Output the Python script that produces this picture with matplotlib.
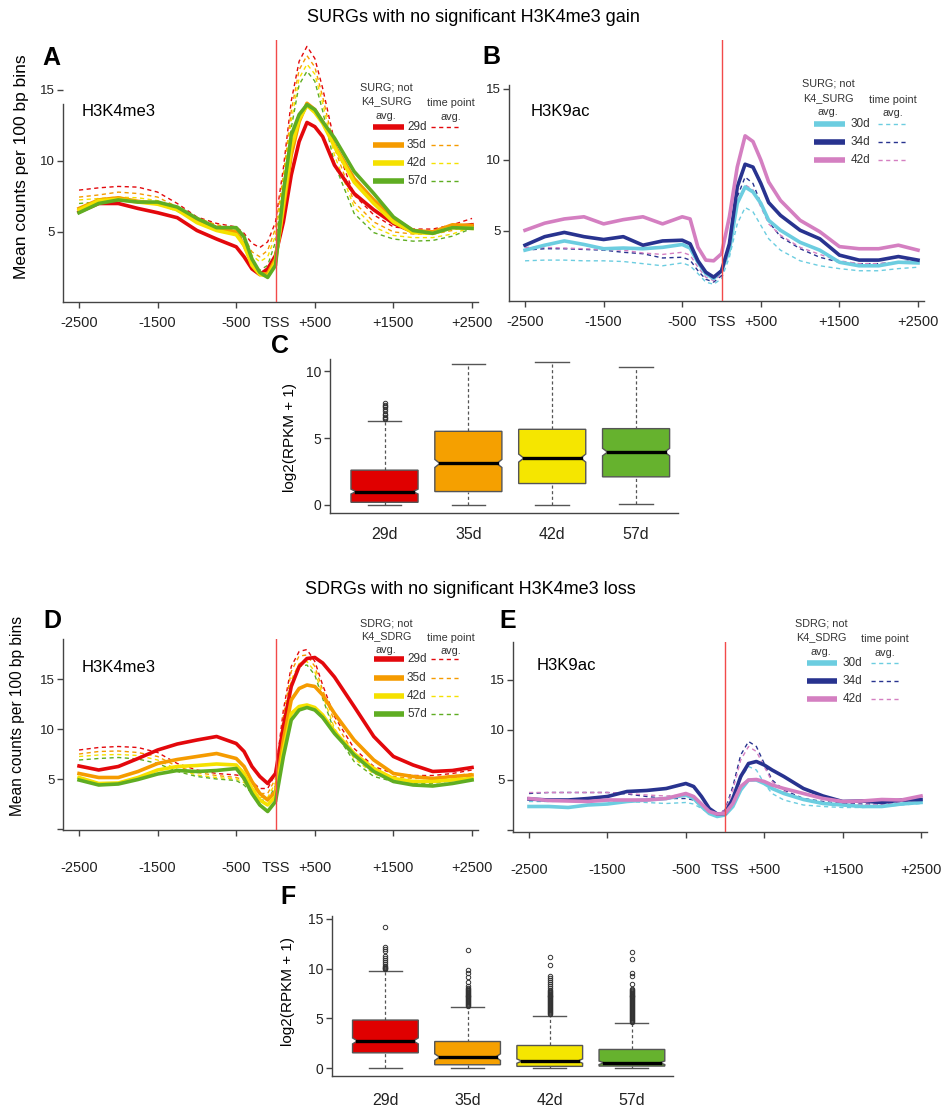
import matplotlib
matplotlib.use("Agg")
import matplotlib.pyplot as plt
from matplotlib.lines import Line2D

plt.rcParams['font.family'] = ['Liberation Sans', 'DejaVu Sans']

# --- data ---
X = [-2500, -2250, -2000, -1750, -1500, -1250, -1000, -750, -500, -400, -300, -200, -100, 0,
     100, 200, 300, 400, 500, 600, 750, 1000, 1250, 1500, 1750, 2000, 2250, 2500]
x_ticks = [-2500, -1500, -500, 0, 500, 1500, 2500]
x_labels = ['-2500', '-1500', '-500', 'TSS', '+500', '+1500', '+2500']

k4_days = ['29d', '35d', '42d', '57d']
k9_days = ['30d', '34d', '42d']

# panel A: SURG H3K4me3 (solid = SURG not K4_SURG avg, dashed = time point avg)
a_29 = [6.4, 7.0, 7.0, 6.65, 6.35, 6.0, 5.1, 4.5, 3.95, 3.25, 2.4, 2.0, 2.4, 3.35, 5.7, 9.0, 11.35, 12.7, 12.4, 11.7, 9.7, 7.7, 6.55, 5.6, 5.0, 5.0, 5.35, 5.5]
a_35 = [6.65, 7.25, 7.4, 7.15, 7.0, 6.65, 5.8, 5.3, 5.0, 4.05, 2.9, 2.05, 2.05, 3.1, 6.65, 10.4, 12.75, 14.05, 13.6, 12.75, 11.1, 8.75, 7.25, 5.95, 5.1, 5.0, 5.5, 5.45]
a_42 = [6.55, 7.2, 7.3, 7.1, 6.95, 6.55, 5.65, 5.1, 4.8, 4.05, 2.65, 2.0, 1.9, 2.9, 7.0, 10.9, 12.9, 13.9, 13.4, 12.65, 11.0, 8.5, 7.0, 5.7, 4.95, 4.9, 5.3, 5.25]
a_57 = [6.35, 7.0, 7.25, 7.1, 7.1, 6.75, 5.95, 5.3, 5.3, 4.65, 3.1, 2.15, 1.8, 2.65, 7.8, 11.8, 13.25, 13.95, 13.6, 12.75, 11.6, 9.25, 7.7, 6.05, 5.1, 4.9, 5.3, 5.25]
ad_29 = [7.94, 8.1, 8.2, 8.15, 7.8, 7.0, 6.05, 5.6, 5.35, 4.9, 4.2, 3.9, 4.3, 5.7, 9.5, 14.2, 17.0, 18.05, 17.2, 15.1, 11.35, 7.6, 6.2, 5.35, 5.2, 5.2, 5.5, 5.95]
ad_35 = [7.45, 7.6, 7.8, 7.7, 7.45, 6.75, 6.0, 5.5, 5.25, 4.65, 3.6, 3.25, 3.7, 5.25, 9.0, 13.5, 16.4, 17.4, 16.6, 14.5, 10.9, 7.1, 5.7, 5.0, 4.85, 4.85, 5.1, 5.6]
ad_42 = [7.25, 7.35, 7.45, 7.4, 7.2, 6.6, 5.95, 5.4, 5.2, 4.5, 3.35, 2.9, 3.25, 4.75, 8.5, 12.8, 15.8, 16.8, 16.1, 14.05, 10.4, 6.75, 5.35, 4.75, 4.6, 4.6, 4.85, 5.35]
ad_57 = [7.0, 7.1, 7.2, 7.15, 7.0, 6.45, 5.8, 5.35, 5.1, 4.3, 2.9, 2.3, 2.65, 4.3, 8.05, 12.3, 15.35, 16.3, 15.6, 13.5, 9.8, 6.3, 4.95, 4.5, 4.35, 4.4, 4.7, 5.25]

# panel B: SURG H3K9ac
b_30 = [3.65, 4.0, 4.3, 4.05, 3.75, 3.8, 3.75, 3.85, 4.05, 3.8, 2.8, 2.0, 1.65, 2.2, 3.65, 6.95, 8.1, 7.75, 6.95, 5.75, 5.05, 4.2, 3.65, 2.8, 2.55, 2.55, 2.8, 2.75]
b_34 = [4.0, 4.6, 4.9, 4.6, 4.4, 4.6, 4.0, 4.3, 4.35, 4.1, 2.9, 2.1, 1.75, 2.2, 4.1, 8.1, 9.7, 9.5, 8.35, 7.0, 6.1, 5.05, 4.45, 3.3, 2.95, 2.95, 3.2, 2.95]
b_42 = [5.05, 5.55, 5.85, 6.0, 5.5, 5.8, 6.0, 5.5, 6.0, 5.85, 3.85, 2.95, 2.9, 3.4, 6.0, 9.5, 11.7, 11.3, 10.0, 8.45, 7.15, 5.75, 4.95, 3.9, 3.75, 3.75, 4.0, 3.65]
bd_30 = [2.9, 2.95, 2.95, 2.9, 2.9, 2.85, 2.7, 2.55, 2.75, 2.55, 2.0, 1.4, 1.25, 1.65, 3.15, 5.5, 6.65, 6.35, 5.4, 4.45, 3.65, 2.9, 2.55, 2.35, 2.2, 2.2, 2.35, 2.45]
bd_34 = [3.65, 3.75, 3.75, 3.7, 3.65, 3.5, 3.4, 3.1, 3.15, 2.95, 2.2, 1.6, 1.4, 1.85, 4.35, 7.4, 8.8, 8.35, 6.95, 5.65, 4.6, 3.75, 3.15, 2.8, 2.7, 2.7, 2.8, 2.95]
bd_42 = [3.85, 3.85, 3.8, 3.75, 3.7, 3.65, 3.45, 3.35, 3.5, 3.3, 2.45, 1.75, 1.5, 1.95, 4.1, 6.95, 8.25, 7.9, 6.7, 5.5, 4.7, 3.85, 3.35, 2.9, 2.7, 2.7, 2.8, 2.9]

# panel D: SDRG H3K4me3
d_29 = [6.3, 5.9, 6.25, 7.05, 7.9, 8.5, 8.9, 9.25, 8.55, 7.75, 6.25, 5.25, 4.55, 5.55, 10.25, 14.25, 16.25, 17.05, 17.15, 16.6, 15.2, 12.25, 9.25, 7.25, 6.4, 5.75, 5.85, 6.15]
d_35 = [5.55, 5.15, 5.15, 5.75, 6.55, 6.95, 7.25, 7.55, 7.05, 6.25, 4.75, 3.55, 2.9, 3.75, 8.9, 12.9, 14.05, 14.4, 14.25, 13.4, 11.55, 8.9, 6.9, 5.55, 5.25, 5.05, 5.25, 5.4]
d_42 = [5.15, 4.55, 4.6, 5.15, 5.9, 6.25, 6.35, 6.5, 6.4, 5.55, 4.05, 2.9, 2.4, 3.25, 7.9, 11.55, 12.25, 12.4, 12.15, 11.4, 9.75, 7.55, 6.05, 5.05, 4.75, 4.75, 4.9, 5.05]
d_57 = [4.9, 4.4, 4.5, 4.95, 5.5, 5.85, 5.75, 5.85, 6.05, 5.05, 3.55, 2.4, 1.75, 2.75, 7.25, 10.9, 11.9, 12.15, 11.9, 11.15, 9.55, 7.4, 5.75, 4.75, 4.4, 4.3, 4.55, 4.9]
dd_29 = [7.9, 8.15, 8.25, 8.15, 7.65, 6.55, 5.9, 5.55, 5.4, 5.25, 4.75, 4.05, 4.05, 5.55, 11.9, 16.25, 17.75, 17.95, 16.75, 14.4, 11.25, 8.05, 6.25, 5.55, 5.35, 5.35, 5.55, 5.9]
dd_35 = [7.5, 7.75, 7.8, 7.65, 7.25, 6.25, 5.65, 5.35, 5.15, 4.9, 4.25, 3.55, 3.55, 5.05, 11.25, 15.75, 17.3, 17.4, 16.25, 13.9, 10.75, 7.55, 5.85, 5.25, 5.05, 5.05, 5.3, 5.55]
dd_42 = [7.25, 7.4, 7.45, 7.35, 6.9, 5.95, 5.4, 5.15, 5.0, 4.65, 3.9, 3.15, 3.15, 4.65, 10.55, 14.9, 16.55, 16.75, 15.75, 13.4, 10.05, 7.05, 5.5, 5.0, 4.85, 4.85, 5.05, 5.4]
dd_57 = [6.9, 7.05, 7.15, 7.0, 6.55, 5.75, 5.25, 5.0, 4.85, 4.4, 3.55, 2.9, 2.85, 4.3, 10.05, 14.4, 16.25, 16.4, 15.4, 13.05, 9.75, 6.75, 5.25, 4.75, 4.55, 4.55, 4.85, 5.25]

# panel E: SDRG H3K9ac
e_30 = [2.35, 2.35, 2.25, 2.5, 2.6, 2.85, 3.0, 3.15, 3.5, 3.15, 2.35, 1.65, 1.35, 1.5, 2.35, 4.0, 5.0, 5.0, 4.65, 4.15, 3.65, 3.05, 2.65, 2.5, 2.35, 2.35, 2.6, 2.75]
e_34 = [3.1, 3.0, 3.0, 3.15, 3.35, 3.85, 3.95, 4.15, 4.65, 4.35, 3.35, 2.15, 1.6, 1.65, 3.15, 5.35, 6.65, 6.85, 6.5, 6.0, 5.35, 4.15, 3.4, 2.85, 2.9, 2.75, 3.0, 3.05]
e_42 = [3.15, 2.95, 2.9, 2.85, 3.0, 3.0, 3.0, 3.15, 3.65, 3.35, 2.6, 1.85, 1.6, 1.65, 2.65, 4.35, 5.0, 5.05, 4.85, 4.5, 4.15, 3.65, 3.15, 2.85, 2.9, 3.05, 3.0, 3.4]
ed_30 = [2.85, 2.85, 2.9, 2.9, 2.9, 2.85, 2.75, 2.65, 2.75, 2.6, 2.15, 1.65, 1.4, 1.65, 3.0, 5.15, 6.35, 6.0, 4.65, 3.65, 3.0, 2.5, 2.35, 2.25, 2.25, 2.35, 2.5, 2.65]
ed_34 = [3.65, 3.75, 3.75, 3.75, 3.75, 3.6, 3.35, 3.15, 3.15, 3.0, 2.35, 1.85, 1.65, 2.0, 4.35, 7.5, 8.85, 8.35, 6.65, 5.0, 4.0, 3.15, 2.85, 2.65, 2.6, 2.6, 2.85, 3.15]
ed_42 = [3.75, 3.75, 3.75, 3.75, 3.75, 3.65, 3.5, 3.4, 3.5, 3.15, 2.5, 1.95, 1.65, 1.95, 4.0, 7.0, 8.35, 7.85, 6.35, 4.85, 3.85, 3.05, 2.75, 2.6, 2.55, 2.55, 2.8, 3.05]

# box plots: (whisker low, q1, median, q3, whisker high, notch half-height)
c_stats = [(0.0, 0.2, 1.0, 2.6, 6.3, 0.18),
           (0.0, 1.0, 3.1, 5.5, 10.5, 0.3),
           (0.02, 1.6, 3.5, 5.65, 10.65, 0.3),
           (0.08, 2.1, 3.95, 5.7, 10.3, 0.28)]
c_out = [[6.4, 6.5, 6.6, 6.7, 6.8, 7.0, 7.2, 7.3, 7.4, 7.5, 7.6], [], [], []]

f_stats = [(0.0, 1.53, 2.73, 4.83, 9.77, 0.3),
           (0.0, 0.33, 1.1, 2.67, 6.1, 0.33),
           (0.0, 0.17, 0.7, 2.27, 5.27, 0.22),
           (0.0, 0.2, 0.53, 1.87, 4.5, 0.18)]
f_out = [[10.0, 10.05, 10.1, 10.2, 10.3, 10.5, 10.7, 10.9, 11.1, 11.3, 11.8, 12.0, 12.2, 14.2],
         [6.2, 6.3, 6.4, 6.5, 6.6, 6.7, 6.8, 6.9, 7.0, 7.1, 7.2, 7.3, 7.4, 7.5, 7.6, 7.7, 7.8,
          7.9, 8.0, 8.1, 8.3, 8.7, 9.2, 9.6, 9.9, 11.9],
         [5.4, 5.5, 5.6, 5.7, 5.8, 5.9, 6.0, 6.1, 6.2, 6.3, 6.4, 6.5, 6.6, 6.7, 6.8, 6.9, 7.0,
          7.1, 7.2, 7.3, 7.4, 7.5, 7.6, 7.7, 7.8, 7.9, 8.1, 8.3, 8.5, 8.7, 8.9, 9.1, 9.3, 10.4, 11.2],
         [4.6, 4.7, 4.8, 4.9, 5.0, 5.1, 5.2, 5.3, 5.4, 5.5, 5.6, 5.7, 5.8, 5.9, 6.0, 6.1, 6.2,
          6.3, 6.4, 6.5, 6.6, 6.7, 6.8, 6.9, 7.0, 7.1, 7.2, 7.3, 7.4, 7.5, 7.6, 7.7, 7.8, 7.9,
          8.0, 8.5, 9.3, 9.6, 11.0, 11.7]]

k4_colors = ['#e3080c', '#f59b00', '#f5e100', '#5fad22']
k9_colors = ['#6ccde0', '#28338f', '#d47fc1']
box_colors = ['#e00000', '#f5a000', '#f5e600', '#66b22e']
AX_COL = '#444444'

# --- layout helpers (pixel coordinates, origin top-left) ---
W, H = 945, 1106
fig = plt.figure(figsize=(W / 100, H / 100), dpi=100)


def px_axes(l, t, r, b):
    return fig.add_axes([l / W, 1 - b / H, (r - l) / W, (b - t) / H])


def ftext(x, y, s, **kw):
    kw.setdefault('ha', 'center')
    kw.setdefault('va', 'center')
    fig.text(x / W, 1 - y / H, s, **kw)


def fline(x1, x2, y, **kw):
    fig.add_artist(Line2D([x1 / W, x2 / W], [1 - y / H] * 2, transform=fig.transFigure, **kw))


def style_axes(ax):
    for s in ['top', 'right']:
        ax.spines[s].set_visible(False)
    for s in ['left', 'bottom']:
        ax.spines[s].set_color(AX_COL)
        ax.spines[s].set_linewidth(1.0)
    ax.tick_params(colors=AX_COL, labelcolor='#222222', width=1.0, length=4)


def profile(ax, solids, dashed, colors, ylim, spine_top, yticks, xpad):
    for ys, c in zip(dashed, colors):
        ax.plot(X, ys, color=c, lw=1.0, dashes=(3, 2.5), zorder=2)
    for ys, c in zip(solids, colors):
        ax.plot(X, ys, color=c, lw=2.6, solid_joinstyle='round', zorder=3)
    ax.axvline(0, color='#f24a4a', lw=1.0, zorder=4)
    ax.set_xlim(-2704, 2576)
    ax.set_ylim(*ylim)
    style_axes(ax)
    ax.spines['left'].set_bounds(ylim[0], spine_top)
    ax.set_xticks(x_ticks)
    ax.set_xticklabels(x_labels, fontsize=10.5)
    ax.xaxis.get_major_ticks()[3].tick1line.set_visible(False)
    ax.tick_params(axis='x', pad=xpad)
    ax.set_yticks(yticks)
    ax.set_yticklabels(['' if v == 0 else str(v) for v in yticks], fontsize=9.5)
    ax.tick_params(axis='y', pad=2)


def legend(head_x, head_ys, group, tp_x, rows_y, sx1, sx2, lab_x, dx1, dx2, labels, colors):
    ftext(head_x, head_ys[0], group + '; not', fontsize=7.8, color='#333333')
    ftext(head_x, head_ys[1], 'K4_' + group, fontsize=7.8, color='#333333')
    ftext(head_x, head_ys[2], 'avg.', fontsize=7.8, color='#333333')
    ftext(tp_x, head_ys[1] + 2, 'time point', fontsize=7.8, color='#333333')
    ftext(tp_x, head_ys[2] + 1, 'avg.', fontsize=7.8, color='#333333')
    for y, lab, c in zip(rows_y, labels, colors):
        fline(sx1, sx2, y, color=c, lw=4.0, solid_capstyle='butt')
        ftext(lab_x, y, lab, ha='left', fontsize=8.5, color='#333333')
        fline(dx1, dx2, y, color=c, lw=1.0, dashes=(3, 2.5))


def boxes(ax, stats, outs, colors, ylim, spine_top, yticks, xpad):
    hw, ins, cap = 0.4, 0.06, 0.2
    for i, (st, o, c) in enumerate(zip(stats, outs, colors)):
        p = i + 1
        lo, q1, med, q3, hi, nh = st
        wl = dict(color='#555555', lw=0.9, dashes=(2.5, 2), zorder=1)
        ax.plot([p, p], [q3, hi], **wl)
        ax.plot([p, p], [lo, q1], **wl)
        ax.plot([p - cap, p + cap], [hi, hi], color='#555555', lw=1.0)
        ax.plot([p - cap, p + cap], [lo, lo], color='#555555', lw=1.0)
        xs = [p - hw, p + hw, p + hw, p + hw - ins, p + hw, p + hw, p - hw, p - hw, p - hw + ins, p - hw]
        ys = [q1, q1, med - nh, med, med + nh, q3, q3, med + nh, med, med - nh]
        ax.fill(xs, ys, facecolor=c, edgecolor='#555555', lw=1.0, zorder=2)
        ax.plot([p - hw + ins, p + hw - ins], [med, med], color='black', lw=2.4, zorder=3)
        if o:
            ax.plot([p] * len(o), o, 'o', mfc='none', mec='#333333', ms=3.2, mew=0.7, zorder=4)
    ax.set_xlim(0.35, 4.5)
    ax.set_ylim(*ylim)
    style_axes(ax)
    ax.spines['left'].set_bounds(ylim[0], spine_top)
    ax.set_xticks([1, 2, 3, 4])
    ax.set_xticklabels(k4_days, fontsize=11.5)
    ax.tick_params(axis='x', length=0, pad=xpad)
    ax.set_yticks(yticks)
    ax.set_yticklabels([str(v) for v in yticks], fontsize=10)
    ax.tick_params(axis='y', pad=2)


# --- titles ---
ftext(473, 18, 'SURGs with no significant H3K4me3 gain', fontsize=13)
ftext(470, 590, 'SDRGs with no significant H3K4me3 loss', fontsize=13)

# --- panel A ---
axA = px_axes(63, 40, 478, 302)
profile(axA, [a_29, a_35, a_42, a_57], [ad_29, ad_35, ad_42, ad_57], k4_colors,
        (0.07, 18.5), 14.0, [5, 10, 15], 6)
ftext(82, 112, 'H3K4me3', ha='left', fontsize=12)
legend(386, [88, 101, 116], 'SURG', 451, [127, 145, 163, 181], 373, 404, 407, 431, 459,
       k4_days, k4_colors)

# --- panel B ---
axB = px_axes(509, 40, 924, 301)
profile(axB, [b_30, b_34, b_42], [bd_30, bd_34, bd_42], k9_colors,
        (0.07, 18.45), 15.3, [5, 10, 15], 6)
ftext(531, 112, 'H3K9ac', ha='left', fontsize=12)
legend(828, [84, 98, 112], 'SURG', 893, [124, 142, 160], 814, 845, 851, 878, 907,
       k9_days, k9_colors)

# --- panel C ---
axC = px_axes(330, 359, 678, 513)
boxes(axC, c_stats, c_out, box_colors, (-0.6, 10.9), 10.9, [0, 5, 10], 10)
ftext(290, 438, 'log2(RPKM + 1)', rotation=90, fontsize=11)

# --- panel D ---
axD = px_axes(63, 639, 478, 830)
profile(axD, [d_29, d_35, d_42, d_57], [dd_29, dd_35, dd_42, dd_57], k4_colors,
        (-0.1, 19.0), 19.0, [0, 5, 10, 15], 18)
ftext(82, 667, 'H3K4me3', ha='left', fontsize=12)
legend(386, [623, 636, 650], 'SDRG', 451, [659, 678, 696, 714], 374, 404, 407, 431, 459,
       k4_days, k4_colors)

# --- panel E ---
axE = px_axes(513, 642, 927, 832)
profile(axE, [e_30, e_34, e_42], [ed_30, ed_34, ed_42], k9_colors,
        (-0.2, 18.8), 18.8, [0, 5, 10, 15], 18)
ftext(537, 666, 'H3K9ac', ha='left', fontsize=12)
legend(821, [624, 637, 652], 'SDRG', 885, [663, 681, 699], 807, 837, 843, 871, 900,
       k9_days, k9_colors)

# --- panel F ---
axF = px_axes(332, 916, 673, 1076)
boxes(axF, f_stats, f_out, box_colors, (-0.8, 15.3), 15.3, [0, 5, 10, 15], 12)
ftext(288, 992, 'log2(RPKM + 1)', rotation=90, fontsize=11)

# --- y labels and panel letters ---
ftext(22, 167, 'Mean counts per 100 bp bins', rotation=90, fontsize=12.5)
ftext(18, 716, 'Mean counts per 100 bp bins', rotation=90, fontsize=11.2)
for lab, x, y in [('A', 51, 58), ('B', 491, 57), ('C', 280, 346),
                  ('D', 52, 621), ('E', 508, 621), ('F', 288, 897)]:
    ftext(x, y, lab, fontsize=18, fontweight='bold')

fig.savefig('out.png', dpi=100)
